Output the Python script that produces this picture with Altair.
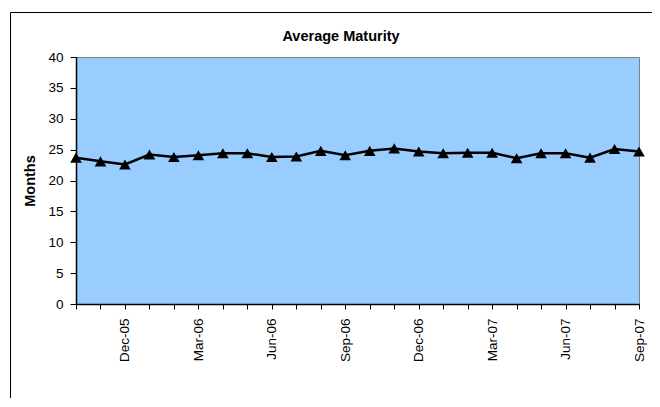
import json
import altair as alt
import pandas as pd

months = ["Oct-05", "Nov-05", "Dec-05", "Jan-06", "Feb-06", "Mar-06", "Apr-06", "May-06",
          "Jun-06", "Jul-06", "Aug-06", "Sep-06", "Oct-06", "Nov-06", "Dec-06", "Jan-07",
          "Feb-07", "Mar-07", "Apr-07", "May-07", "Jun-07", "Jul-07", "Aug-07", "Sep-07"]
maturity = [23.7, 23.1, 22.6, 24.2, 23.8, 24.1, 24.4, 24.4,
            23.8, 23.9, 24.8, 24.1, 24.8, 25.2, 24.7, 24.4,
            24.5, 24.5, 23.6, 24.4, 24.4, 23.7, 25.1, 24.7]
tick_labels = ["Dec-05", "Mar-06", "Jun-06", "Sep-06", "Dec-06", "Mar-07", "Jun-07", "Sep-07"]
y_ticks = [0, 5, 10, 15, 20, 25, 30, 35, 40]
chart_title = "Average Maturity"
y_title = "Months"

W, H = 563, 247
FONT = "Liberation Sans"

df = pd.DataFrame({"Month": months, "Months": maturity})
one = pd.DataFrame({"k": [0]})

x = alt.X(
    "Month:O", sort=months,
    scale=alt.Scale(type="point", padding=0),
    axis=alt.Axis(
        title=None, labelAngle=270, labelAlign="right", labelBaseline="middle",
        labelExpr=f"indexof({json.dumps(tick_labels)}, datum.label) >= 0 ? datum.label : ''",
        labelOverlap=False, tickSize=5, labelPadding=9, domainColor="black",
        tickColor="black", labelColor="black", labelFontSize=13.5, labelFont=FONT,
        grid=False, domainWidth=1.5,
    ),
)
y = alt.Y(
    "Months:Q",
    scale=alt.Scale(domain=[0, 40], nice=False, zero=True),
    axis=alt.Axis(
        values=y_ticks, title=y_title, titleFontWeight="bold", titleFontSize=14.5,
        titleFont=FONT, titleColor="black", titleX=-42, titleY=H / 2, titleAngle=270,
        titleBaseline="alphabetic", titleAlign="center", labelPadding=7, tickSize=6,
        grid=False, domainColor="black", tickColor="black", labelColor="black",
        labelFontSize=13.5, labelFont=FONT, domainWidth=1.5,
    ),
)

base = alt.Chart(df).encode(x=x, y=y)
line = base.mark_line(color="black", strokeWidth=2.5)
pts = base.mark_point(shape="triangle-up", filled=True, color="black", size=135, opacity=1)

border_top = alt.Chart(one).mark_rule(color="black", strokeWidth=1).encode(
    x=alt.value(-65.5), x2=alt.value(W + 13), y=alt.value(-44.5)
)
border_left = alt.Chart(one).mark_rule(color="black", strokeWidth=1).encode(
    x=alt.value(-65.5), y=alt.value(-44.5), y2=alt.value(H + 94)
)
title_txt = alt.Chart(one).mark_text(
    text=chart_title, fontWeight="bold", fontSize=14.5, font=FONT,
    baseline="alphabetic", align="center", color="black"
).encode(x=alt.value(341 - 76), y=alt.value(40.5 - 57))

chart = alt.layer(border_top, border_left, line, pts, title_txt).properties(
    width=W, height=H,
    autosize=alt.AutoSizeParams(type="none"),
    padding={"left": 68, "top": 49, "right": 13, "bottom": 94},
    background="white",
).configure_view(fill="#99CCFF", stroke="#808080", strokeWidth=1)

chart.save("out.html", embed_options={"renderer": "svg", "actions": False})
